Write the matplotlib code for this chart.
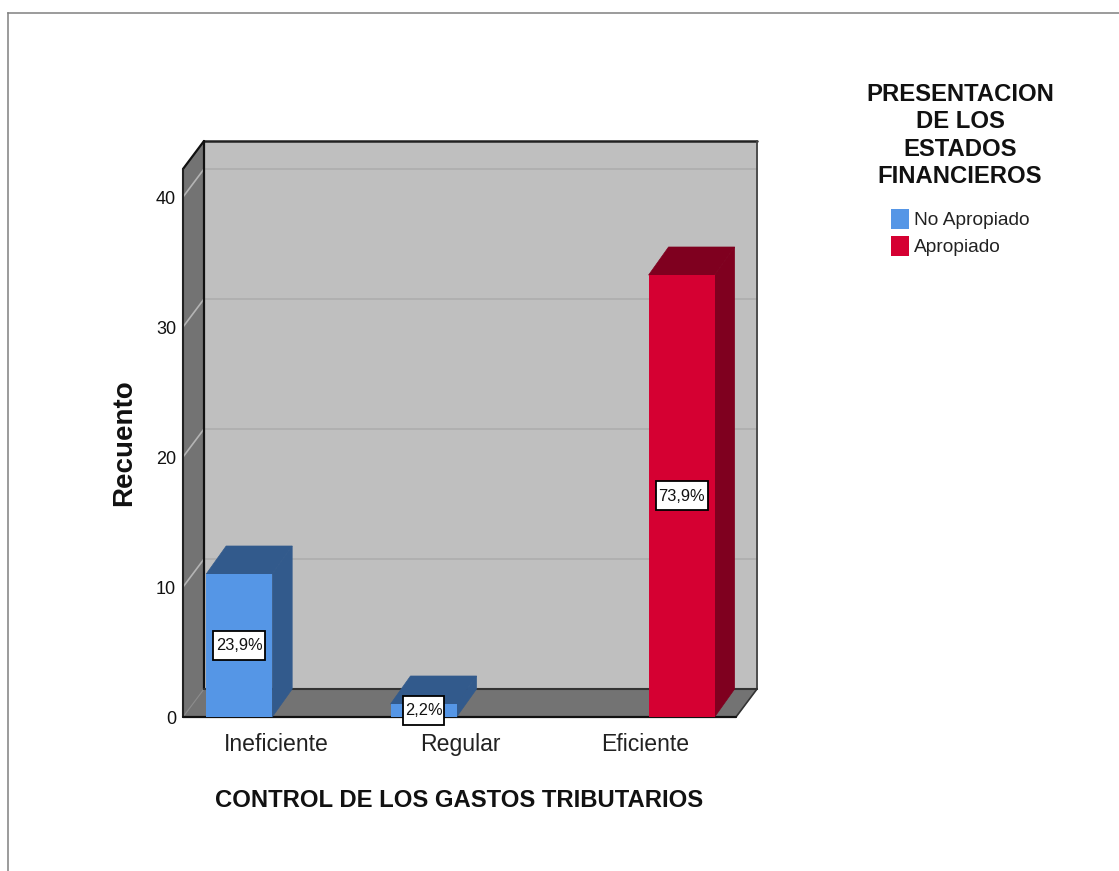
import matplotlib
matplotlib.use("Agg")
import matplotlib.pyplot as plt
from matplotlib.lines import Line2D
from matplotlib.patches import Polygon, Rectangle

categories = ["Ineficiente", "Regular", "Eficiente"]
no_apropiado = [11, 1, 0]
apropiado = [0, 0, 34]
pct_no_apropiado = ["23,9%", "2,2%", ""]
pct_apropiado = ["", "", "73,9%"]
y_ticks = [0, 10, 20, 30, 40]
legend_title = "PRESENTACION\nDE LOS\nESTADOS\nFINANCIEROS"
x_title = "CONTROL DE LOS GASTOS TRIBUTARIOS"
y_title = "Recuento"

W, H = 1119, 871
SANS = ["Liberation Sans", "DejaVu Sans"]

fig = plt.figure(figsize=(W / 100, H / 100), dpi=100, facecolor="white")
ax = fig.add_axes([183 / W, (H - 717) / H, 553 / W, 548 / H])
ax.set_xlim(-0.505, 2.495)
ax.set_ylim(0, 548 / 13)
ax.patch.set_visible(False)
for s in ax.spines.values():
    s.set_visible(False)

x0, x1 = ax.get_xlim()
y0, y1 = ax.get_ylim()
PX = 3 / 553
DX = 21 * PX
DY = 28 / 13


def poly(pts, color, z, edge=None):
    ax.add_patch(Polygon(pts, closed=True, facecolor=color, edgecolor=edge or color,
                         linewidth=0.5, zorder=z, clip_on=False))


def line(xs, ys, color, lw, z):
    ax.add_line(Line2D(xs, ys, color=color, linewidth=lw, zorder=z, clip_on=False,
                       solid_capstyle="round"))


# walls and floor
poly([(x0 + DX, y0 + DY), (x1 + DX, y0 + DY), (x1 + DX, y1 + DY), (x0 + DX, y1 + DY)], "#bfbfbf", 1)
poly([(x0, y0), (x0 + DX, y0 + DY), (x0 + DX, y1 + DY), (x0, y1)], "#737373", 1)
poly([(x0, y0), (x1, y0), (x1 + DX, y0 + DY), (x0 + DX, y0 + DY)], "#737373", 1)

for t in y_ticks[1:]:
    line([x0 + DX, x1 + DX], [t + DY, t + DY], "#adadad", 1.2, 2)
    line([x0, x0 + DX], [t, t + DY], "#b4b4b4", 1.2, 2)
line([x0, x0 + DX], [0, DY], "#8c8c8c", 0.8, 2)

# frame of the box
line([x0 + DX, x1 + DX], [y1 + DY, y1 + DY], "#222222", 1.8, 3)
line([x0 + DX, x0 + DX], [y0 + DY, y1 + DY], "#111111", 1.6, 3)
line([x1 + DX, x1 + DX], [y0 + DY, y1 + DY], "#444444", 1.3, 3)
line([x0 + DX, x1 + DX], [y0 + DY, y0 + DY], "#333333", 1.5, 3)
line([x0, x0 + DX], [y1, y1 + DY], "#111111", 1.6, 3)
line([x1, x1 + DX], [y0, y0 + DY], "#333333", 1.2, 3)
line([x0, x0], [y0, y1], "#222222", 1.5, 3)
line([x0, x1], [y0, y0], "#111111", 1.6, 3)

BAR_W = 66 * PX
OFF = 0.2


def bars3d(values, offset, front, dark, label):
    xs = [i + offset for i, v in enumerate(values) if v > 0]
    hs = [v for v in values if v > 0]
    cont = ax.bar(xs, hs, width=BAR_W, color=front, zorder=6, label=label, linewidth=0)
    for x, h in zip(xs, hs):
        l, r = x - BAR_W / 2, x + BAR_W / 2
        poly([(r, 0), (r + DX * 0.95, DY), (r + DX * 0.95, h + DY), (r, h)], dark, 5)
        poly([(l, h), (r, h), (r + DX * 0.95, h + DY), (l + DX * 0.95, h + DY)], dark, 5)
    return cont


bars3d(no_apropiado, -OFF, "#5596e6", "#325a8c", "No Apropiado")
bars3d(apropiado, OFF, "#d50032", "#7f001f", "Apropiado")

BOX_H = 29 / 13
for values, pcts, offset in ((no_apropiado, pct_no_apropiado, -OFF), (apropiado, pct_apropiado, OFF)):
    for i, (v, p) in enumerate(zip(values, pcts)):
        if v > 0:
            bw = len(p) * 10.4 * PX
            ax.add_patch(Rectangle((i + offset - bw / 2, v / 2 - BOX_H / 2), bw, BOX_H, facecolor="white",
                                   edgecolor="black", linewidth=1.3, zorder=7, clip_on=False))
            ax.text(i + offset, v / 2, p, ha="center", va="center", fontsize=11.8, family=SANS,
                    color="#111111", zorder=8)

ax.set_xticks(range(len(categories)), categories, fontsize=16.6, family=SANS, color="#222222")
ax.set_yticks(y_ticks, [str(t) for t in y_ticks], fontsize=13, family=SANS, color="#111111")
ax.tick_params(axis="x", length=0, pad=11.5)
ax.tick_params(axis="y", length=0, pad=5)

ax.set_xlabel(x_title, fontsize=17.2, family=SANS, fontweight="bold", color="#111111", labelpad=24)
fig.text(124 / W, 1 - 442.5 / H, y_title, rotation=90, ha="center", va="center",
         fontsize=20, family=SANS, fontweight="bold", color="#111111")

leg = ax.legend(loc="upper center", bbox_to_anchor=(960 / W, 1 - 83 / H), bbox_transform=fig.transFigure,
                frameon=False, title=legend_title, ncols=1,
                prop={"family": SANS, "size": 13.8}, handlelength=0.94, handleheight=1.25,
                handletextpad=0.26, labelspacing=0.33, borderpad=0, borderaxespad=0)
t = leg.get_title()
t.set_fontsize(17.2)
t.set_fontweight("bold")
t.set_family(SANS)
t.set_linespacing(1.24)
t.set_multialignment("center")
t.set_color("#111111")
leg._legend_box.sep = 15
for txt in leg.get_texts():
    txt.set_color("#222222")

# outer picture border
fig.add_artist(Line2D([7.5 / W, 7.5 / W], [0, 1 - 13 / H], color="#808080", lw=1.1, transform=fig.transFigure))
fig.add_artist(Line2D([7.5 / W, 1], [1 - 13 / H, 1 - 13 / H], color="#808080", lw=1.1, transform=fig.transFigure))

fig.savefig("out.png", dpi=100, facecolor="white")
